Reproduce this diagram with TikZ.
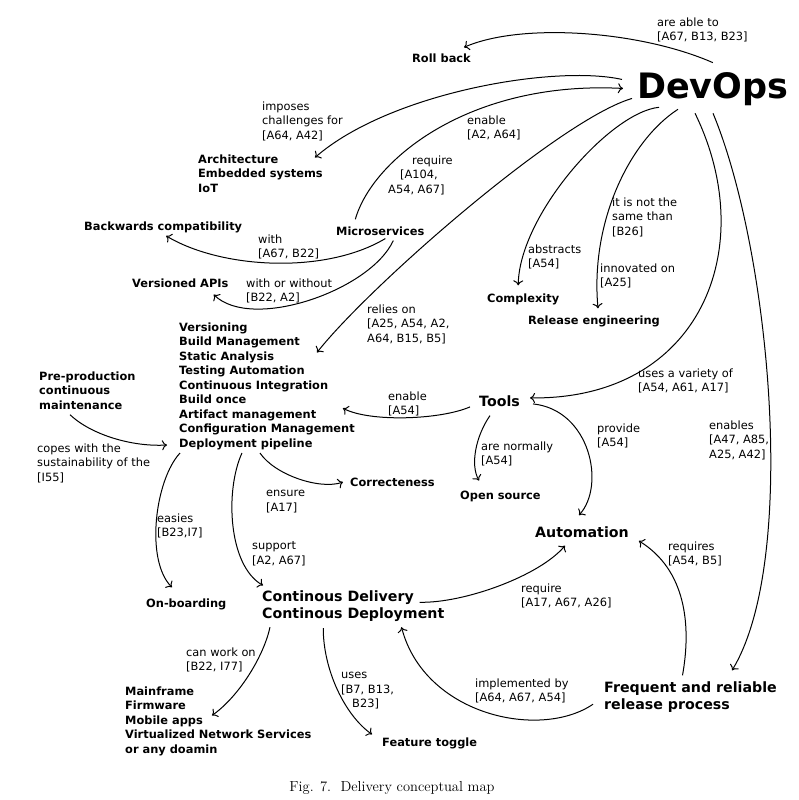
\documentclass[tikz,border=0pt]{standalone}
\usepackage{fontspec}
\newfontfamily\dejavu{DejaVu Sans}
\usepackage{tikz}
\usetikzlibrary{arrows.meta}

\begin{document}
\begin{tikzpicture}[x=1pt, y=-1pt,
    concept/.style={font=\dejavu\bfseries\fontsize{11.4}{14.5}\selectfont, inner sep=1pt, align=left},
    bigconcept/.style={font=\dejavu\bfseries\fontsize{14.2}{17.5}\selectfont, inner sep=1pt, align=left},
    lbl/.style={font=\dejavu\fontsize{11.4}{14.5}\selectfont, inner sep=1pt, align=left, anchor=north west},
    rel/.style={line width=1pt, -{To[length=5pt,width=10pt]}}]
  \useasboundingbox (0,0) rectangle (799,800);

  % concepts
  \node[concept, font=\dejavu\bfseries\fontsize{35}{40}\selectfont, anchor=base west] (devops) at (636,98.8) {DevOps};
  \node[concept, anchor=base west] (roll) at (411,62.2) {Roll back};
  \node[concept, anchor=north west] (arch) at (197,153.5) {Architecture\\Embedded systems\\IoT};
  \node[concept, anchor=base west] (backw) at (83,230.2) {Backwards compatibility};
  \node[concept, anchor=base west] (micro) at (335,235.2) {Microservices};
  \node[concept, anchor=base west] (vapi) at (131,287.2) {Versioned APIs};
  \node[concept, anchor=base west] (complex) at (486,302.2) {Complexity};
  \node[concept, anchor=base west] (releng) at (527,324.2) {Release engineering};
  \node[concept, anchor=north west] (practices) at (178,321.5)
    {Versioning\\Build Management\\Static Analysis\\Testing Automation\\Continuous Integration\\Build once\\Artifact management\\Configuration Management\\Deployment pipeline};
  \node[concept, anchor=north west] (preprod) at (38,370.5) {Pre-production\\continuous\\maintenance};
  \node[bigconcept, anchor=base west] (tools) at (478,406.2) {Tools};
  \node[concept, anchor=base west] (correct) at (349,486.2) {Correcteness};
  \node[concept, anchor=base west] (opensrc) at (459,499.2) {Open source};
  \node[bigconcept, anchor=base west] (auto) at (534,537.2) {Automation};
  \node[bigconcept, anchor=north west] (cd) at (261,589.4) {Continous Delivery\\Continous Deployment};
  \node[concept, anchor=base west] (onboard) at (145,607.2) {On-boarding};
  \node[bigconcept, anchor=north west] (freq) at (603,680.4) {Frequent and reliable\\release process};
  \node[concept, anchor=north west] (domains) at (124,685.5)
    {Mainframe\\Firmware\\Mobile apps\\Virtualized Network Services\\or any doamin};
  \node[concept, anchor=base west] (toggle) at (381,746.2) {Feature toggle};

  % relation labels
  \node[lbl] (ableto) at (656,16.5) {are able to\\{}[A67, B13, B23]};
  \node[lbl] (imposes) at (261,100.5) {imposes\\challenges for\\{}[A64, A42]};
  \node[lbl] (enable) at (466,114.5) {enable\\{}[A2, A64]};
  \node[lbl] (require) at (387,154.5) {\hspace*{24pt}require\\\hspace*{12pt}[A104,\\A54, A67]};
  \node[lbl] (with) at (257,233.5) {with\\{}[A67, B22]};
  \node[lbl] (withor) at (245,277.5) {with or without\\{}[B22, A2]};
  \node[lbl] (abstracts) at (527,243.5) {abstracts\\{}[A54]};
  \node[lbl] (notsame) at (611,196.5) {it is not the\\same than\\{}[B26]};
  \node[lbl] (innovated) at (599,262.5) {innovated on\\{}[A25]};
  \node[lbl] (variety) at (637,367.5) {uses a variety of\\{}[A54, A61, A17]};
  \node[lbl] (relies) at (366,303.5) {relies on\\{}[A25, A54, A2,\\A64, B15, B5]};
  \node[lbl] (copes) at (36,442.5) {copes with the\\sustainability of the\\{}[I55]};
  \node[lbl] (enabletools) at (387,390.5) {enable\\{}[A54]};
  \node[lbl] (normally) at (480,440.5) {are normally\\{}[A54]};
  \node[lbl] (provide) at (596,422.5) {provide\\{}[A54]};
  \node[lbl] (enables) at (708,419.5) {enables\\{}[A47, A85,\\A25, A42]};
  \node[lbl] (requires) at (667,540.5) {requires\\{}[A54, B5]};
  \node[lbl] (requirecd) at (520,582.5) {require\\{}[A17, A67, A26]};
  \node[lbl] (implemented) at (474,677.5) {implemented by\\{}[A64, A67, A54]};
  \node[lbl] (ensure) at (265,489) {ensure\\{}[A17]};
  \node[lbl] (easies) at (156,512.5) {easies\\{}[B23,I7]};
  \node[lbl] (support) at (251,540.5) {support\\{}[A2, A67]};
  \node[lbl] (canwork) at (185,646.5) {can work on\\{}[B22, I77]};
  \node[lbl] (uses) at (340,671) {uses\\{}[B7, B13,\\\hspace*{11pt}B23]};

  \node[font=\fontsize{14.5}{17}\selectfont] (caption) at (392,788) {Fig. 7.\ \ Delivery conceptual map};

  % relations
  \draw[rel] ([shift={(0,-9)}]devops.north) .. controls +(-73,-32) and +(57,-25) .. ([shift={(-8,-5)}]roll.north east);
  \draw[rel] ([shift={(-14,-10)}]devops.west) .. controls +(-67,-15) and +(75,-65) .. ([shift={(-9,4)}]arch.north east);
  \draw[rel] ([shift={(-25,-6)}]micro.north) .. controls +(17,-60) and +(-153,-8) .. ([shift={(-13,-1)}]devops.west);
  \draw[rel] ([shift={(-4,9)}]devops.west) .. controls +(-72,21) and +(53,-67) .. ([shift={(-39,31)}]practices.north east);
  \draw[rel] ([shift={(23,0)}]devops.south west) .. controls +(-49,5) and +(1,-70) .. ([shift={(-5,-7)}]complex.north);
  \draw[rel] ([shift={(42,2)}]devops.south west) .. controls +(-48,31) and +(-8,-87) .. ([shift={(71,-6)}]releng.north west);
  \draw[rel] ([shift={(59,6)}]devops.south west) .. controls +(66,135) and +(170,2) .. ([shift={(9,-3)}]tools.east);
  \draw[rel] ([shift={(77,6)}]devops.south west) .. controls +(57,137) and +(67,-110) .. ([shift={(-46,-10)}]freq.north east);
  \draw[rel] ([shift={(5,2)}]micro.south) .. controls +(-60,36) and +(55,33) .. ([shift={(3,2)}]backw.south);
  \draw[rel] ([shift={(13,4)}]micro.south) .. controls +(-23,50) and +(38,37) .. ([shift={(-16,6)}]vapi.south east);
  \draw[rel] ([shift={(-8,6)}]tools.west) .. controls +(-30,13) and +(27,14) .. ([shift={(-13,22)}]practices.east);
  \draw[rel] ([shift={(12,8)}]tools.south west) .. controls +(-14,20) and +(-9,-16) .. ([shift={(20,-9)}]opensrc.north west);
  \draw[rel] ([shift={(12,3)}]tools.east) .. controls +(57,6) and +(27,-30) .. ([shift={(-3,-10)}]auto.north);
  \draw[rel] ([shift={(32,4)}]preprod.south west) .. controls +(20,19) and +(-37,2) .. ([shift={(-11,-6)}]practices.south west);
  \draw[rel] ([shift={(-7,2)}]practices.south) .. controls +(15,22) and +(-23,8) .. ([shift={(-6,0)}]correct.west);
  \draw[rel] ([shift={(2,2)}]practices.south west) .. controls +(-25,27) and +(-27,-27) .. ([shift={(27,-10)}]onboard.north west);
  \draw[rel] ([shift={(-25,2)}]practices.south) .. controls +(-17,37) and +(-35,-20) .. ([shift={(2,-4)}]cd.north west);
  \draw[rel] ([shift={(-26,-4)}]cd.east) .. controls +(45,1) and +(-25,30) .. ([shift={(31,7)}]auto.south west);
  \draw[rel] ([shift={(-10,7)}]freq.west) .. controls +(-53,36) and +(23,88) .. ([shift={(-44,4)}]cd.south east);
  \draw[rel] ([shift={(-8,-5)}]freq.north) .. controls +(9,-50) and +(47,29) .. ([shift={(9,9)}]auto.east);
  \draw[rel] ([shift={(9,4)}]cd.south west) .. controls +(-6,28) and +(28,-20) .. ([shift={(88,30)}]domains.north west);
  \draw[rel] ([shift={(-30,5)}]cd.south) .. controls +(0,42) and +(-27,-19) .. ([shift={(-9,-2)}]toggle.north west);
\end{tikzpicture}
\end{document}
